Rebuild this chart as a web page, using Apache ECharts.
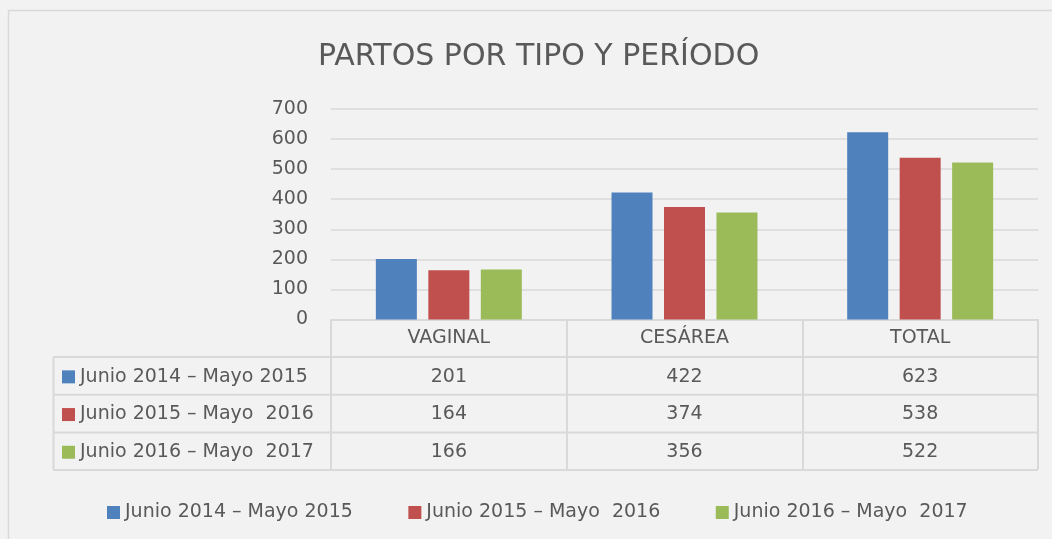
<!DOCTYPE html>
<html><head><meta charset="utf-8">
<script src="https://cdn.jsdelivr.net/npm/echarts@6/dist/echarts.min.js"></script>
<style>html,body{margin:0;padding:0;background:#f2f2f2}#c{width:1052px;height:539px}</style>
</head><body><div id="c"></div>
<script>
const titleText = 'PARTOS POR TIPO Y PERÍODO';
const categories = ['VAGINAL', 'CESÁREA', 'TOTAL'];
const seriesNames = ['Junio 2014 – Mayo 2015', 'Junio 2015 – Mayo  2016', 'Junio 2016 – Mayo  2017'];
const values2014 = [201, 422, 623];
const values2015 = [164, 374, 538];
const values2016 = [166, 356, 522];
const yMin = 0, yMax = 700, yStep = 100;

const seriesValues = [values2014, values2015, values2016];
const colors = ['#4f81bd', '#c0504d', '#9bbb59'];
const FONT = '"DejaVu Sans", sans-serif';
const TXT = '#595959';
const LINE = '#d9d9d9';

const chart = echarts.init(document.getElementById('c'), null, {renderer: 'canvas'});

const option = {
  backgroundColor: '#f2f2f2',
  animation: false,
  title: {
    text: titleText, left: 313, top: 37,
    textStyle: {fontFamily: FONT, fontSize: 30, fontWeight: 'normal', color: TXT}
  },
  legend: {
    data: seriesNames, left: 102, top: 498, itemWidth: 13, itemHeight: 13, itemGap: 55.5,
    icon: 'rect',
    textStyle: {fontFamily: FONT, fontSize: 19, color: TXT}
  },
  grid: {left: 331, right: 14, top: 109, height: 210.5, containLabel: false},
  xAxis: {
    type: 'category', data: categories, boundaryGap: true,
    axisLine: {show: true, lineStyle: {color: LINE, width: 2}},
    axisTick: {show: true, length: 150, lineStyle: {color: LINE, width: 2}},
    axisLabel: {margin: 9, fontFamily: FONT, fontSize: 19, color: TXT}
  },
  yAxis: {
    type: 'value', min: yMin, max: yMax, interval: yStep,
    axisLine: {show: false}, axisTick: {show: false},
    splitLine: {lineStyle: {color: LINE, width: 1.5}},
    axisLabel: {margin: 23, fontFamily: FONT, fontSize: 19, color: TXT, padding: [4, 0, 0, 0]}
  },
  series: seriesNames.map((n, i) => ({
    name: n, type: 'bar', data: seriesValues[i], barWidth: 41, barGap: '28%',
    itemStyle: {color: colors[i]}
  }))
};
chart.setOption(option);

// data table under the axis
const x0 = chart.convertToPixel({xAxisIndex: 0}, categories[0]);
const x1 = chart.convertToPixel({xAxisIndex: 0}, categories[1]);
const colW = x1 - x0;
const tableRight = chart.convertToPixel({xAxisIndex: 0}, categories[categories.length - 1]) + colW / 2;
const axisY = chart.convertToPixel({yAxisIndex: 0}, yMin);
const headerH = 37.5, rowH = 37.7, tableLeft = 53.5;
const g = [];
g.push({type: 'rect', z: -10, shape: {x: 8.5, y: 10.5, width: 1200, height: 800},
  style: {fill: '#f2f2f2', stroke: LINE, lineWidth: 1.5}, silent: true});
for (let r = 0; r <= seriesNames.length; r++) {
  const y = axisY + headerH + r * rowH;
  g.push({type: 'line', shape: {x1: tableLeft, y1: y, x2: tableRight, y2: y},
    style: {stroke: LINE, lineWidth: 2}});
}
g.push({type: 'line', shape: {x1: tableLeft, y1: axisY + headerH, x2: tableLeft, y2: axisY + headerH + 3 * rowH},
  style: {stroke: LINE, lineWidth: 2}});
seriesNames.forEach((n, r) => {
  const cy = axisY + headerH + (r + 0.5) * rowH + 1;
  g.push({type: 'rect', shape: {x: 62, y: cy - 6.5, width: 13, height: 13}, style: {fill: colors[r]}});
  g.push({type: 'text', style: {text: n, x: 80, y: cy, fill: TXT, fontFamily: FONT, fontSize: 19,
    textAlign: 'left', textVerticalAlign: 'middle'}});
  categories.forEach((c, k) => {
    const cx = chart.convertToPixel({xAxisIndex: 0}, c);
    g.push({type: 'text', style: {text: String(seriesValues[r][k]), x: cx, y: cy, fill: TXT,
      fontFamily: FONT, fontSize: 19, textAlign: 'center', textVerticalAlign: 'middle'}});
  });
});
chart.setOption({graphic: g});
</script></body></html>
